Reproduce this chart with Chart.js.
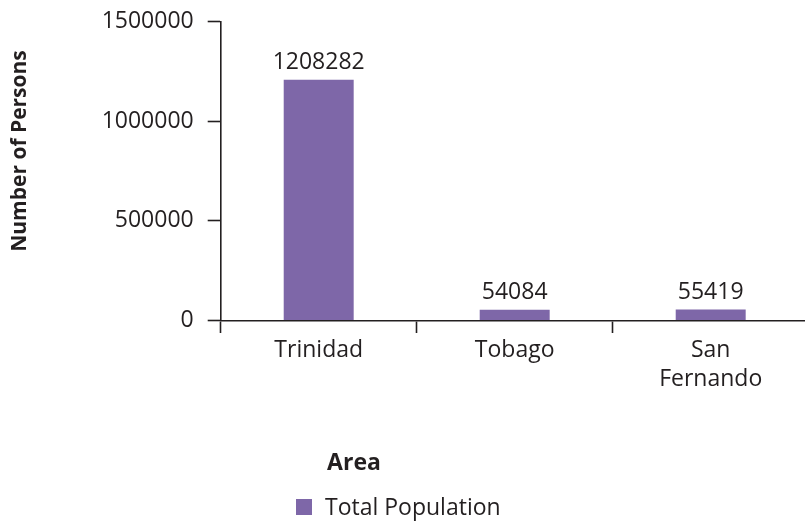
<!DOCTYPE html>
<html>
<head>
<meta charset="utf-8">
<script src="https://cdn.jsdelivr.net/npm/chart.js@4/dist/chart.umd.min.js"></script>
<style>
  html, body { margin: 0; padding: 0; background: #fff; overflow: hidden; }
  #wrap { width: 805px; height: 521px; overflow: hidden; position: relative; }
  #box { width: 820px; height: 521px; position: absolute; left: 0; top: 0; }
</style>
</head>
<body>
<div id="wrap"><div id="box"><canvas id="c"></canvas></div></div>
<script>
// Population by area
const areas = [['Trinidad'], ['Tobago'], ['San', 'Fernando']];
const totalPopulation = [1208282, 54084, 55419];
const yTicks = [0, 500000, 1000000, 1500000];
const seriesName = 'Total Population';
const xTitle = 'Area';
const yTitle = 'Number of Persons';

const FONT = '"Open Sans", "Noto Sans", sans-serif';
const TEXT = '#231f20';
const AXIS = '#231f20';
const BAR = '#7e67a8';

// value labels above each bar, axis titles and the legend
const annotate = {
  id: 'annotate',
  afterDatasetsDraw(chart) {
    const ctx = chart.ctx;
    const meta = chart.getDatasetMeta(0);
    ctx.save();
    ctx.fillStyle = TEXT;
    ctx.font = '23px ' + FONT;
    ctx.textAlign = 'center';
    ctx.textBaseline = 'alphabetic';
    meta.data.forEach((bar, i) => {
      ctx.fillText(String(totalPopulation[i]), bar.x, bar.y - 10.5);
    });

    // y axis title
    ctx.font = 'bold 21px ' + FONT;
    ctx.translate(20, 151);
    ctx.rotate(-Math.PI / 2);
    ctx.textBaseline = 'middle';
    ctx.fillText(yTitle, 0, 0);
    ctx.restore();

    ctx.save();
    ctx.fillStyle = TEXT;
    // x axis title
    ctx.font = 'bold 23px ' + FONT;
    ctx.textAlign = 'center';
    ctx.textBaseline = 'middle';
    ctx.fillText(xTitle, 354, 463);
    // legend
    ctx.fillStyle = BAR;
    ctx.fillRect(296, 499, 16, 16);
    ctx.fillStyle = TEXT;
    ctx.font = '23px ' + FONT;
    ctx.textAlign = 'left';
    ctx.fillText(seriesName, 325, 508);
    ctx.restore();
  }
};

new Chart(document.getElementById('c'), {
  type: 'bar',
  data: {
    labels: areas,
    datasets: [{
      label: seriesName,
      data: totalPopulation,
      backgroundColor: BAR,
      borderWidth: 0,
      categoryPercentage: 1,
      barPercentage: 0.357
    }]
  },
  options: {
    responsive: true,
    maintainAspectRatio: false,
    animation: false,
    layout: { padding: { top: 21.7, left: 0, right: 11.3, bottom: 0 } },
    plugins: {
      legend: { display: false },
      tooltip: { enabled: false }
    },
    scales: {
      x: {
        grid: {
          drawOnChartArea: false,
          drawTicks: true,
          tickLength: 12.5,
          tickWidth: 1.6,
          tickColor: AXIS,
          offset: true
        },
        border: { color: AXIS, width: 1.6 },
        ticks: {
          color: TEXT,
          font: { family: FONT, size: 23, lineHeight: 1.26 },
          padding: 3,
          maxRotation: 0,
          autoSkip: false
        },
        afterFit(scale) {
          scale.height = 200.5;
          scale.paddingLeft = 0;
          scale.paddingRight = 0;
        }
      },
      y: {
        min: 0,
        max: 1500000,
        afterBuildTicks(scale) { scale.ticks = yTicks.map(v => ({ value: v })); },
        grid: {
          drawOnChartArea: false,
          drawTicks: true,
          tickLength: 13,
          tickWidth: 1.6,
          tickColor: AXIS
        },
        border: { color: AXIS, width: 1.6 },
        ticks: {
          color: TEXT,
          font: { family: FONT, size: 23 },
          padding: 14,
          callback: v => String(v)
        },
        afterFit(scale) {
          scale.width = 220.7;
          scale.paddingTop = 0;
          scale.paddingBottom = 0;
        }
      }
    }
  },
  plugins: [annotate]
});
</script>
</body>
</html>
